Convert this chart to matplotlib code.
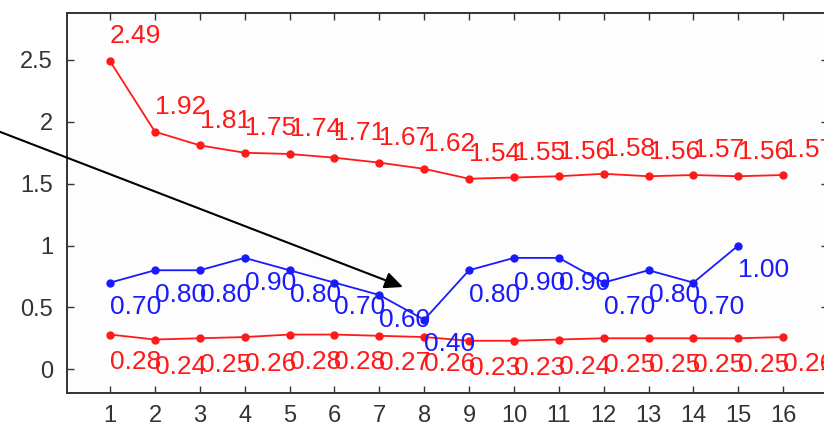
import matplotlib
matplotlib.use('Agg')
import matplotlib.pyplot as plt

plt.rcParams['font.family'] = ['Liberation Sans', 'DejaVu Sans']

# x positions and the three series
steps = list(range(1, 17))
upper_red = [2.49, 1.92, 1.81, 1.75, 1.74, 1.71, 1.67, 1.62,
             1.54, 1.55, 1.56, 1.58, 1.56, 1.57, 1.56, 1.57]
blue_vals = [0.70, 0.80, 0.80, 0.90, 0.80, 0.70, 0.60, 0.40,
             0.80, 0.90, 0.90, 0.70, 0.80, 0.70, 1.00]
lower_red = [0.28, 0.24, 0.25, 0.26, 0.28, 0.28, 0.27, 0.26,
             0.23, 0.23, 0.24, 0.25, 0.25, 0.25, 0.25, 0.26]

fig = plt.figure(figsize=(8.24, 4.28), dpi=100)
ax = fig.add_axes([67 / 824, 1 - 392.7 / 428, 761 / 824, 380.2 / 428])
ax.set_facecolor('#fdfdfd')

red = '#ff1a1a'
blue = '#1a1aff'
ax.plot(steps, upper_red, '-o', color=red, lw=1.3, ms=5)
ax.plot(steps[:len(blue_vals)], blue_vals, '-o', color=blue, lw=1.3, ms=5)
ax.plot(steps, lower_red, '-o', color=red, lw=1.3, ms=5)

# value labels: above the upper curve, below the other two
lbl = dict(fontsize=19, ha='left', va='center')
for x, y in zip(steps, upper_red):
    ax.text(x, y + 0.2, '%.2f' % y, color=red, **lbl)
for x, y in zip(steps, blue_vals):
    ax.text(x, y - 0.2, '%.2f' % y, color=blue, **lbl)
for x, y in zip(steps, lower_red):
    ax.text(x, y - 0.22, '%.2f' % y, color=red, **lbl)

ax.set_xlim(0.04, 17)
ax.set_ylim(-0.19, 2.884)
ax.set_xticks(steps)
ax.set_yticks([0, 0.5, 1, 1.5, 2, 2.5])
ax.set_yticklabels(['0', '0.5', '1', '1.5', '2', '2.5'])
ax.tick_params(direction='in', top=True, right=True, length=5, width=1,
               labelsize=17, colors='#333333')
ax.tick_params(axis='y', pad=10)
ax.tick_params(axis='x', pad=9)
for s in ax.spines.values():
    s.set_color('#333333')
    s.set_linewidth(1.4)

ax.annotate('', xy=(403 / 824, 1 - 287 / 428), xytext=(-10 / 824, 1 - 128 / 428),
            xycoords='figure fraction', textcoords='figure fraction',
            arrowprops=dict(arrowstyle='-|>,head_length=0.55,head_width=0.25',
                            color='black', lw=1.5, mutation_scale=20,
                            shrinkA=0, shrinkB=0))

fig.savefig('out.png', dpi=100)
